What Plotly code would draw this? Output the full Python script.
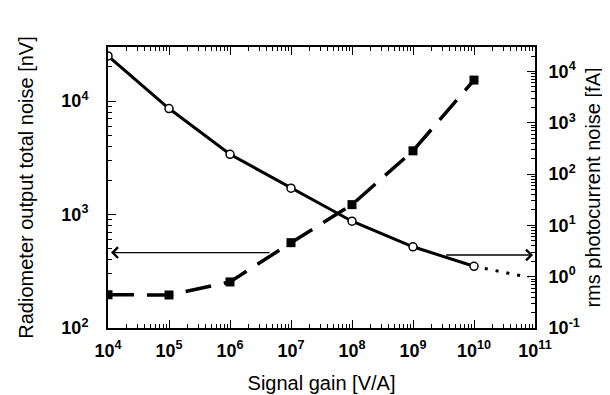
import numpy as np
import plotly.graph_objects as go

# ---- data ----
gain = [1e4, 1e5, 1e6, 1e7, 1e8, 1e9, 1e10]
total_noise_nV = [2.5e4, 8.6e3, 3.4e3, 1.71e3, 874, 520, 350]
extrap_gain = [1e10, 7.8e10]
extrap_noise_nV = [350, 280]
photocurrent_noise_fA = [0.445, 0.44, 0.79, 4.6, 25.4, 284, 6.8e3]

# arrows: (tail gain, tip gain, level)
left_arrow_gain = [4.7e6, 1.12e4]
left_arrow_nV = 462
right_arrow_gain = [3.3e9, 0.93e11]
right_arrow_nV = 440

x_tick_exp = [4, 5, 6, 7, 8, 9, 10, 11]
y1_tick_exp = [2, 3, 4]
y2_tick_exp = [-1, 0, 1, 2, 3, 4]

FONT = "Liberation Sans"


def sup_labels(exps):
    return ["10<sup>%d</sup>" % e for e in exps]


def minor_vals(lo, hi):
    out = []
    for e in range(lo, hi + 1):
        for m in range(2, 10):
            out.append(m * 10.0 ** e)
    return out


fig = go.Figure()

fig.add_trace(go.Scatter(
    x=gain, y=photocurrent_noise_fA, yaxis="y2", mode="lines+markers",
    line=dict(color="black", width=3.5, dash="26px,13px"),
    marker=dict(symbol="square", size=9, color="black"),
    showlegend=False, hoverinfo="skip"))

fig.add_trace(go.Scatter(
    x=extrap_gain, y=extrap_noise_nV, mode="lines",
    line=dict(color="black", width=3, dash="3px,8px"),
    showlegend=False, hoverinfo="skip"))

fig.add_trace(go.Scatter(
    x=gain, y=total_noise_nV, mode="lines+markers",
    line=dict(color="black", width=3),
    marker=dict(symbol="circle", size=8, color="white",
                line=dict(color="black", width=1.5)),
    showlegend=False, hoverinfo="skip"))

arrow_style = dict(xref="x", yref="y", axref="x", ayref="y", text="",
                   showarrow=True, arrowhead=4, arrowsize=1.6,
                   arrowwidth=1.3, arrowcolor="black")
fig.add_annotation(x=np.log10(left_arrow_gain[1]), y=np.log10(left_arrow_nV),
                   ax=np.log10(left_arrow_gain[0]), ay=np.log10(left_arrow_nV),
                   **arrow_style)
fig.add_annotation(x=np.log10(right_arrow_gain[1]), y=np.log10(right_arrow_nV),
                   ax=np.log10(right_arrow_gain[0]), ay=np.log10(right_arrow_nV),
                   **arrow_style)

tickfont = dict(family=FONT, size=18, color="black", weight="bold")
titlefont = dict(family=FONT, size=20, color="black")

fig.update_layout(
    width=610, height=395,
    margin=dict(l=100, r=83, t=39, b=69),
    paper_bgcolor="white", plot_bgcolor="white",
    showlegend=False,
    xaxis=dict(
        type="log", range=[4, 11],
        tickvals=[10.0 ** e for e in x_tick_exp], ticktext=sup_labels(x_tick_exp),
        ticks="inside", ticklen=8, tickwidth=1.2, tickcolor="black",
        minor=dict(tickvals=minor_vals(4, 10), ticks="inside", ticklen=4,
                   tickwidth=1, tickcolor="black", showgrid=False),
        showline=True, linecolor="black", linewidth=2, mirror="ticks",
        showgrid=False, zeroline=False, tickfont=tickfont,
        ticklabelstandoff=5,
        title=dict(text="Signal gain [V/A]", font=titlefont, standoff=16),
    ),
    yaxis=dict(
        type="log", range=[2, np.log10(3e4)],
        tickvals=[10.0 ** e for e in y1_tick_exp], ticktext=sup_labels(y1_tick_exp),
        ticks="inside", ticklen=8, tickwidth=1.2, tickcolor="black",
        minor=dict(tickvals=minor_vals(2, 4), ticks="inside", ticklen=4,
                   tickwidth=1, tickcolor="black", showgrid=False),
        showline=True, linecolor="black", linewidth=2, mirror=True,
        showgrid=False, zeroline=False, tickfont=tickfont,
        ticklabelstandoff=14,
        title=dict(text="Radiometer output total noise [nV]", font=titlefont,
                   standoff=22),
    ),
    yaxis2=dict(
        type="log", range=[-1, np.log10(3e4)], overlaying="y", side="right",
        tickvals=[10.0 ** e for e in y2_tick_exp], ticktext=sup_labels(y2_tick_exp),
        ticks="inside", ticklen=8, tickwidth=1.2, tickcolor="black",
        minor=dict(tickvals=minor_vals(-1, 4), ticks="inside", ticklen=4,
                   tickwidth=1, tickcolor="black", showgrid=False),
        showline=True, linecolor="black", linewidth=2,
        showgrid=False, zeroline=False, tickfont=tickfont,
        ticklabelstandoff=8,
        title=dict(text="rms photocurrent noise [fA]", font=titlefont,
                   standoff=7),
    ),
)

fig.write_html("out.html")
